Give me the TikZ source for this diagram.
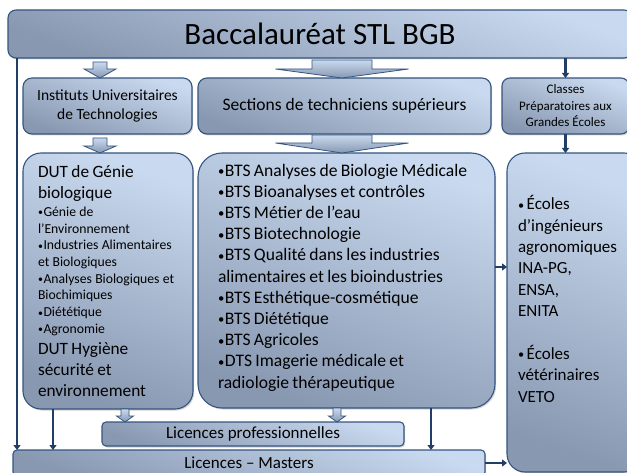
\documentclass[tikz,border=0pt]{standalone}
\usepackage{fontspec}
\setmainfont{Carlito}
\usetikzlibrary{calc,arrows.meta,shadows}
\definecolor{edgeblue}{HTML}{34557F}
\definecolor{filltop}{HTML}{C9D9EF}
\definecolor{fillbot}{HTML}{8898B1}
\definecolor{navy}{HTML}{213F66}
\newcommand\bul{\raisebox{0.6pt}{\scalebox{0.72}{•}}\kern0.6pt}
\newcommand\downblock[5]{%
  \path[blk] let \p1=#1, \p2=#2 in
    (\x2-#3,\y1) -- (\x2+#3,\y1) -- (\x2+#3,\y2+#5) -- (\x2+#4,\y2+#5)
    -- (\x2,\y2) -- (\x2-#4,\y2+#5) -- (\x2-#3,\y2+#5) -- cycle;}
\begin{document}
\begin{tikzpicture}[x=1pt,y=-1pt,
  box/.style={draw=edgeblue, line width=1.1pt, top color=filltop, bottom color=fillbot,
    shading angle=-20, inner sep=0pt, outer sep=0pt, anchor=north west, text=black,
    drop shadow={shadow xshift=1.2pt, shadow yshift=-1.5pt, opacity=0.35}},
  blk/.style={draw=edgeblue, line width=0.8pt, top color=filltop, bottom color=fillbot},
  thinarrow/.style={draw=navy, line width=2.4pt, -{Triangle[width=7pt,length=5pt]}}]
\useasboundingbox (0,0) rectangle (627,473);
\clip (0,0) rectangle (627,473);

% boxes
\node[box, rounded corners=8pt, minimum width=624pt, minimum height=48pt,
  font=\fontsize{31}{36}\selectfont] (bac) at (8,10) {Baccalauréat STL BGB};
\node[box, rounded corners=9pt, minimum width=169pt, minimum height=56pt, align=center,
  font=\fontsize{15.5}{19}\selectfont] (iut) at (23,78) {Instituts Universitaires\\de Technologies};
\node[box, rounded corners=9pt, minimum width=293pt, minimum height=56pt,
  font=\fontsize{17.5}{21}\selectfont] (sts) at (198,78) {Sections de techniciens supérieurs};
\node[box, rounded corners=8pt, minimum width=127pt, minimum height=56pt, align=center,
  font=\fontsize{13}{16.5}\selectfont] (cp) at (502,78) {Classes\\Préparatoires aux\\Grandes Écoles};

\node[box, rounded corners=18pt, minimum width=170pt, minimum height=256pt,
  text width=140pt, inner xsep=15pt, align=left] (dut) at (23,153) {%
{\fontsize{17.3}{21}\selectfont DUT de Génie\\biologique\par}\vspace{1.3pt}%
{\fontsize{13.7}{16.7}\selectfont \bul Génie de\\l'Environnement\\\bul Industries Alimentaires\\et Biologiques\\\bul Analyses Biologiques et\\Biochimiques\\\bul Diététique\\\bul Agronomie\par}%
{\fontsize{17.3}{21}\selectfont DUT Hygiène\\sécurité et\\environnement\par}};

\node[box, rounded corners=24pt, minimum width=297pt, minimum height=255pt,
  text width=257pt, inner xsep=20pt, align=left] (bts) at (198,153) {%
{\fontsize{17.6}{21.2}\selectfont \bul BTS Analyses de Biologie Médicale\\\bul BTS Bioanalyses et contrôles\\\bul BTS Métier de l’eau\\\bul BTS Biotechnologie\\\bul BTS Qualité dans les industries\\alimentaires et les bioindustries\\\bul BTS Esthétique-cosmétique\\\bul BTS Diététique\\\bul BTS Agricoles\\\bul DTS Imagerie médicale et\\radiologie thérapeutique\par}\vspace{6pt}};

\node[box, rounded corners=18pt, minimum width=135pt, minimum height=319pt,
  text width=113pt, inner xsep=11pt, align=left] (ec) at (507,153) {%
{\fontsize{17}{21.4}\selectfont \bul\hspace{2pt}Écoles\\d’ingénieurs\\agronomiques\\INA-PG,\\ENSA,\\ENITA\\[21.4pt]\bul\hspace{2pt}Écoles\\vétérinaires\\VETO\par}\vspace{27pt}};

\node[box, rounded corners=4pt, minimum width=302pt, minimum height=24pt,
  font=\fontsize{17}{21}\selectfont] (lp) at (102,422) {Licences professionnelles};
\node[box, rounded corners=4pt, minimum width=472pt, minimum height=26pt,
  font=\fontsize{17}{21}\selectfont] (lm) at (13,450) {Licences – Masters};

% block arrows
\downblock{($(bac.south -| iut.north)+(-7.5,4)$)}{($(iut.north)+(-7.5,0)$)}{7pt}{16pt}{9pt}
\downblock{($(iut.south)+(-7.5,4)$)}{($(dut.north)+(-8,0)$)}{7pt}{16pt}{7pt}
\downblock{($(bac.south -| sts.north)+(-2.5,2)$)}{($(sts.north)+(-2.5,0)$)}{30pt}{66.5pt}{9pt}
\downblock{($(sts.south)+(-2.5,1)$)}{($(bts.north)+(-4.5,0)$)}{30pt}{66.5pt}{10pt}
\downblock{($(dut.south west)+(102,0)$)}{($(lp.north west)+(23,0)$)}{4pt}{8.5pt}{6pt}
\downblock{($(bts.south west)+(139,0)$)}{($(lp.north west)+(235,0)$)}{4pt}{8.5pt}{6pt}

% thin arrows
\draw[thinarrow] ($(bac.south west)+(9,0)$) -- ($(bac.south west |- lm.north)+(9,0)$);
\draw[thinarrow] ($(dut.south west)+(30,0)$) -- ($(dut.south west |- lm.north)+(30,0)$);
\draw[thinarrow] ($(bts.south west)+(233,0)$) -- ($(bts.south west |- lm.north)+(233,0)$);
\draw[thinarrow] (bac.south -| cp.north) -- (cp.north);
\draw[thinarrow] (cp.south) -- (cp.south |- ec.north);
\draw[thinarrow] ($(bts.east)+(0,-13.5)$) -- ($(bts.east -| ec.west)+(0,-13.5)$);
\draw[thinarrow] (lm.east) -- (lm.east -| ec.west);
\end{tikzpicture}
\end{document}
